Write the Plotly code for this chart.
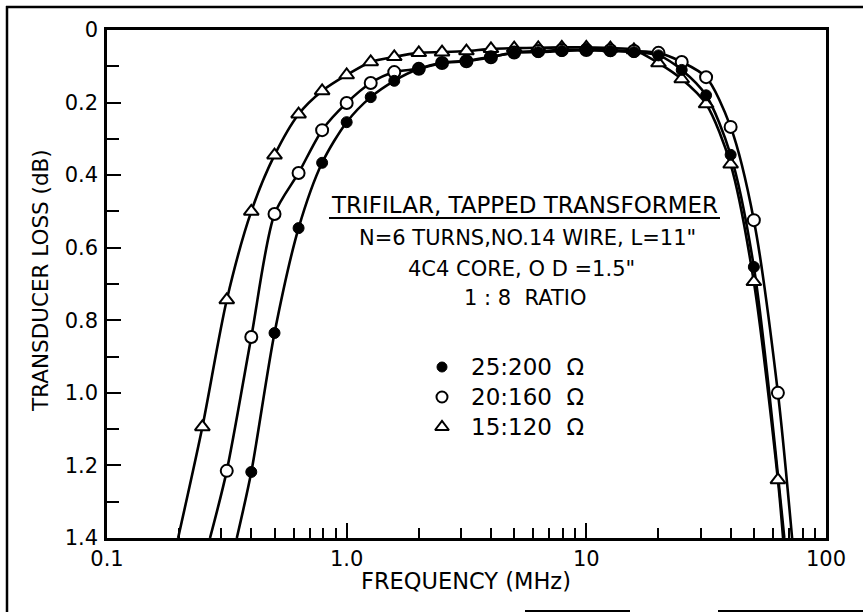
import plotly.graph_objects as go

# Measured transducer loss of a trifilar tapped transformer, three impedance pairs
freq_25 = [0.4, 0.5, 0.63, 0.79, 1.0, 1.26, 1.58, 2.0, 2.5, 3.16, 4.0, 5.0,
           6.3, 7.9, 10.0, 12.6, 15.8, 20.0, 25.0, 31.6, 40.0, 50.0]
loss_25 = [1.218, 0.835, 0.546, 0.366, 0.254, 0.185, 0.140, 0.107, 0.090, 0.085,
           0.074, 0.063, 0.061, 0.058, 0.055, 0.058, 0.061, 0.070, 0.110, 0.180,
           0.344, 0.653]

freq_20 = [0.316, 0.4, 0.5, 0.63, 0.79, 1.0, 1.26, 1.58, 2.0, 2.5, 3.16, 4.0,
           5.0, 6.3, 7.9, 10.0, 12.6, 15.8, 20.0, 25.0, 31.6, 40.0, 50.0, 63.0]
loss_20 = [1.215, 0.846, 0.507, 0.394, 0.276, 0.201, 0.146, 0.116, 0.107, 0.091,
           0.086, 0.075, 0.062, 0.058, 0.055, 0.055, 0.056, 0.058, 0.063, 0.088,
           0.130, 0.267, 0.524, 1.000]

freq_15 = [0.25, 0.316, 0.4, 0.5, 0.63, 0.79, 1.0, 1.26, 1.58, 2.0, 2.5, 3.16,
           4.0, 5.0, 6.3, 7.9, 10.0, 12.6, 15.8, 20.0, 25.0, 31.6, 40.0, 50.0, 63.0]
loss_15 = [1.094, 0.744, 0.500, 0.345, 0.232, 0.168, 0.124, 0.088, 0.074, 0.063,
           0.061, 0.058, 0.052, 0.050, 0.049, 0.048, 0.048, 0.050, 0.055, 0.091,
           0.135, 0.204, 0.370, 0.694, 1.240]

# Frequencies where each fitted curve leaves the 1.4 dB floor (low / high side)
series_names = ["25:200 Ω", "20:160 Ω", "15:120 Ω"]
edge_lo_mhz = [0.348, 0.269, 0.198]
edge_hi_mhz = [67.0, 72.2, 66.2]
loss_floor = 1.4

x_tick_vals = [0.1, 1.0, 10.0, 100.0]
x_tick_text = ["0.1", "1.0", "10", "100"]
y_tick_vals = [0, 0.2, 0.4, 0.6, 0.8, 1.0, 1.2, 1.4]
y_tick_text = ["0", "0.2", "0.4", "0.6", "0.8", "1.0", "1.2", "1.4"]

FONT = "DejaVu Sans"
INK = "black"

# Plot area in page pixels
L, R, T, B = 107, 826, 30, 538
W_PAGE, H_PAGE = 863, 612


def px(x):
    return (x - L) / (R - L)


def py(y):
    return (B - y) / (B - T)


freqs = [freq_25, freq_20, freq_15]
losses = [loss_25, loss_20, loss_15]
markers = [
    dict(symbol="circle", size=11, color=INK, line=dict(color=INK, width=1)),
    dict(symbol="circle", size=12, color="white", line=dict(color=INK, width=2)),
    dict(symbol="triangle-up", size=13, color="white", line=dict(color=INK, width=2)),
]

fig = go.Figure()

# Smooth fitted curves, extended down to the 1.4 dB floor on both sides
for f, l, lo, hi in zip(freqs, losses, edge_lo_mhz, edge_hi_mhz):
    fig.add_trace(go.Scatter(
        x=[lo] + f + [hi], y=[loss_floor] + l + [loss_floor],
        mode="lines", line=dict(color=INK, width=2.6, shape="spline", smoothing=0.8),
        hoverinfo="skip", showlegend=False,
    ))

# Measured points, triangles first so the filled dots sit on top
for f, l, m, name in reversed(list(zip(freqs, losses, markers, series_names))):
    fig.add_trace(go.Scatter(
        x=f, y=l, mode="markers", marker=m, name=name, showlegend=False,
    ))

# Legend keys on an overlay axis spanning the plot area
legend_rows = [367, 397, 427]
for m, row in zip(markers, legend_rows):
    key = dict(m)
    key["size"] = m["size"] - 1
    fig.add_trace(go.Scatter(
        x=[px(442)], y=[py(row)], mode="markers", marker=key,
        xaxis="x2", yaxis="y2", showlegend=False, hoverinfo="skip",
    ))

annotations = []
for name, row in zip(series_names, legend_rows):
    annotations.append(dict(
        text=name.replace(" ", "  "), x=px(469), y=py(row), xref="paper", yref="paper",
        xanchor="left", yanchor="middle", showarrow=False,
        font=dict(family=FONT, size=23, color=INK),
    ))

caption = [
    ("TRIFILAR, TAPPED TRANSFORMER", 524, 205, 23),
    ("N=6 TURNS,NO.14 WIRE, L=11\"", 527, 238, 21),
    ("4C4 CORE, O D =1.5\"", 521, 269, 21),
    ("1 : 8  RATIO", 525, 298, 21),
]
for text, cx, cy, size in caption:
    annotations.append(dict(
        text=text, x=px(cx), y=py(cy), xref="paper", yref="paper",
        xanchor="center", yanchor="middle", showarrow=False,
        font=dict(family=FONT, size=size, color=INK),
    ))

# Axis titles
annotations.append(dict(
    text="FREQUENCY (MHz)", x=px(466), y=py(581), xref="paper", yref="paper",
    xanchor="center", yanchor="middle", showarrow=False,
    font=dict(family=FONT, size=22.5, color=INK),
))
annotations.append(dict(
    text="TRANSDUCER LOSS (dB)", x=px(40), y=py(281), xref="paper", yref="paper",
    xanchor="center", yanchor="middle", showarrow=False, textangle=-90,
    font=dict(family=FONT, size=21.5, color=INK),
))

shapes = [
    # underline of the caption heading
    dict(type="line", xref="paper", yref="paper", x0=px(329), x1=px(720),
         y0=py(218), y1=py(218), line=dict(color=INK, width=2)),
    # page frame
    dict(type="line", xref="paper", yref="paper", x0=px(6), x1=px(863),
         y0=py(7), y1=py(7), line=dict(color=INK, width=2.5)),
    dict(type="line", xref="paper", yref="paper", x0=px(7), x1=px(7),
         y0=py(6), y1=py(612), line=dict(color=INK, width=2.5)),
    dict(type="line", xref="paper", yref="paper", x0=px(525), x1=px(630),
         y0=py(611), y1=py(611), line=dict(color=INK, width=2)),
    dict(type="line", xref="paper", yref="paper", x0=px(718), x1=px(863),
         y0=py(611), y1=py(611), line=dict(color=INK, width=2)),
]

x_minor = [m * d for d in (0.1, 1.0, 10.0) for m in range(2, 10)]
y_minor = [0.1, 0.3, 0.5, 0.7, 0.9, 1.1, 1.3]

fig.update_layout(
    width=W_PAGE, height=H_PAGE,
    margin=dict(l=L, r=W_PAGE - R, t=T, b=H_PAGE - B),
    paper_bgcolor="white", plot_bgcolor="white",
    showlegend=False,
    font=dict(family=FONT, color=INK),
    xaxis=dict(
        type="log", range=[-1, 2],
        showline=True, linecolor=INK, linewidth=2.5, mirror=True,
        ticks="inside", ticklen=15, tickwidth=2, tickcolor=INK,
        tickmode="array", tickvals=x_tick_vals, ticktext=x_tick_text,
        tickfont=dict(family=FONT, size=21, color=INK), ticklabelstandoff=0,
        minor=dict(ticks="inside", ticklen=10, tickwidth=2, tickcolor=INK,
                   tickmode="array", tickvals=x_minor, showgrid=False),
        showgrid=False, zeroline=False,
    ),
    yaxis=dict(
        range=[1.4, 0],
        showline=True, linecolor=INK, linewidth=2.5, mirror=True,
        ticks="inside", ticklen=14, tickwidth=2, tickcolor=INK,
        tickmode="array", tickvals=y_tick_vals, ticktext=y_tick_text,
        tickfont=dict(family=FONT, size=21, color=INK), ticklabelstandoff=2,
        minor=dict(ticks="inside", ticklen=12, tickwidth=2, tickcolor=INK,
                   tickmode="array", tickvals=y_minor, showgrid=False),
        showgrid=False, zeroline=False,
    ),
    xaxis2=dict(overlaying="x", range=[0, 1], visible=False, fixedrange=True),
    yaxis2=dict(overlaying="y", range=[0, 1], visible=False, fixedrange=True),
    annotations=annotations,
    shapes=shapes,
)

fig.write_html("out.html")
